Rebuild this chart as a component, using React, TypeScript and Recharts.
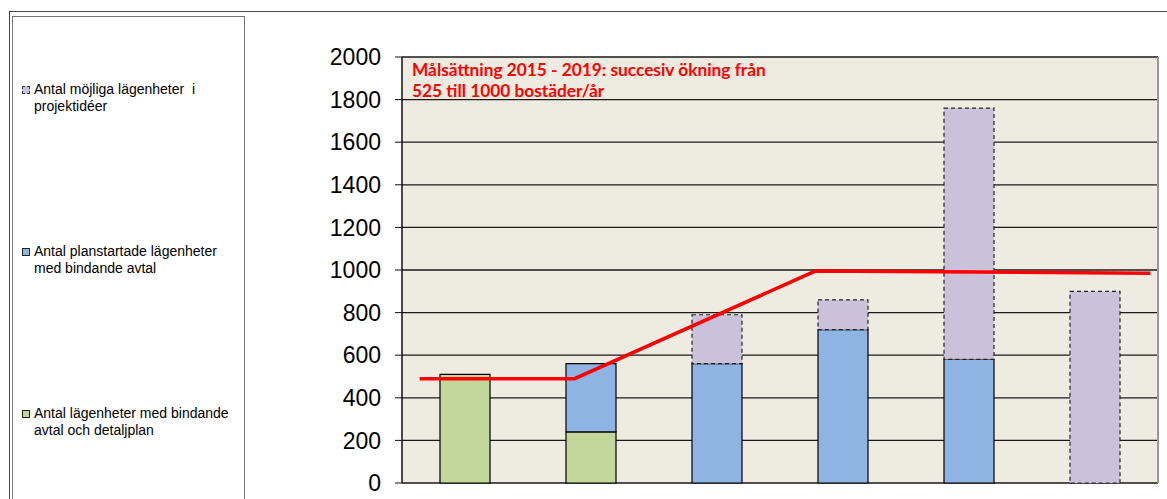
import {
  ComposedChart,
  Bar,
  Line,
  XAxis,
  YAxis,
  CartesianGrid,
  ReferenceLine,
} from 'recharts';

// Six years, no x labels shown in the original
const categories = ['2014', '2015', '2016', '2017', '2018', '2019'];
const detaljplan = [510, 240, 0, 0, 0, 0];
const planstartade = [0, 320, 560, 720, 580, 0];
const projektideer = [0, 0, 230, 140, 1180, 900];

// Target line (Målsättning), x in category units on a 0..6 scale
const targetX = [0.14, 1.37, 3.28, 5.94];
const targetY = [490, 490, 995, 985];

const yTicks = [0, 200, 400, 600, 800, 1000, 1200, 1400, 1600, 1800, 2000];

const COLORS = {
  green: '#C3D69B',
  blue: '#8EB4E3',
  purple: '#CCC1DA',
  plotBg: '#EEECE1',
  grid: '#1a1a1a',
  target: '#FF0000',
};

const legendItems = [
  { lines: ['Antal möjliga lägenheter  i', 'projektidéer'], color: COLORS.purple, top: 81, dashed: true },
  { lines: ['Antal planstartade lägenheter', 'med bindande avtal'], color: COLORS.blue, top: 243, dashed: false },
  { lines: ['Antal lägenheter med bindande', 'avtal och detaljplan'], color: COLORS.green, top: 405, dashed: false },
];

export default function App() {
  const chartData = categories.map((c, i) => ({
    name: c,
    detaljplan: detaljplan[i],
    planstartade: planstartade[i],
    projektideer: projektideer[i],
  }));
  const lineData = targetX.map((x, i) => ({ x, target: targetY[i] }));

  return (
    <div
      style={{
        position: 'absolute',
        left: 0,
        top: 0,
        width: 1167,
        height: 499,
        overflow: 'hidden',
        background: '#fff',
        fontFamily: '"Liberation Sans", Arial, sans-serif',
      }}
    >
      {/* outer frame */}
      <div
        style={{
          position: 'absolute',
          left: 9,
          top: 11,
          width: 1300,
          height: 600,
          borderLeft: '1px solid #444',
          borderTop: '1px solid #444',
        }}
      />
      {/* legend box */}
      <div
        style={{
          position: 'absolute',
          left: 12,
          top: 16,
          width: 231,
          height: 600,
          border: '1.5px solid #777',
        }}
      />
      {legendItems.map((item, i) => (
        <div
          key={i}
          style={{ position: 'absolute', left: 22, top: item.top, fontSize: 14, lineHeight: '17px', color: '#000' }}
        >
          <span
            style={{
              position: 'absolute',
              left: 0,
              top: 5,
              width: 6,
              height: 6,
              background: item.color,
              border: item.dashed ? '1px dashed #333' : '1px solid #222',
            }}
          />
          <div style={{ marginLeft: 12, whiteSpace: 'pre' }}>
            {item.lines.map((l, j) => (
              <div key={j}>{l}</div>
            ))}
          </div>
        </div>
      ))}

      <div style={{ position: 'absolute', left: 0, top: 0 }}>
        <ComposedChart
          width={1167}
          height={499}
          data={chartData}
          margin={{ top: 57, right: 9, bottom: 16, left: 0 }}
          barSize={50}
        >
          <CartesianGrid
            horizontal={true}
            vertical={false}
            stroke={COLORS.grid}
            strokeWidth={1.3}
            fill={COLORS.plotBg}
            fillOpacity={1}
          />
          <XAxis dataKey="name" height={0} tick={false} tickLine={false} axisLine={{ stroke: '#888', strokeWidth: 2 }} />
          <XAxis
            xAxisId="num"
            type="number"
            dataKey="x"
            domain={[0, 6]}
            allowDataOverflow
            hide
          />
          <YAxis
            width={402}
            domain={[0, 2000]}
            ticks={yTicks}
            interval={0}
            tickSize={7}
            tickMargin={14}
            tick={{ fontSize: 23, fill: '#000', fontFamily: '"Liberation Sans", Arial, sans-serif' }}
            axisLine={{ stroke: '#111', strokeWidth: 1.5 }}
            tickLine={{ stroke: '#111' }}
          />
          <ReferenceLine xAxisId="num" x={6} stroke="#999" strokeWidth={2} />
          <Bar dataKey="detaljplan" stackId="a" fill={COLORS.green} stroke="#000" strokeWidth={1.2} isAnimationActive={false} />
          <Bar dataKey="planstartade" stackId="a" fill={COLORS.blue} stroke="#000" strokeWidth={1.2} isAnimationActive={false} />
          <Bar
            dataKey="projektideer"
            stackId="a"
            fill={COLORS.purple}
            stroke="#222"
            strokeWidth={1.2}
            strokeDasharray="4 3"
            isAnimationActive={false}
          />
          <Line
            xAxisId="num"
            data={lineData}
            dataKey="target"
            type="linear"
            stroke={COLORS.target}
            strokeWidth={3.5}
            dot={false}
            activeDot={false}
            isAnimationActive={false}
          />
        </ComposedChart>
      </div>

      {/* goal annotation */}
      <div
        style={{
          position: 'absolute',
          left: 412,
          top: 59,
          fontFamily: 'Lato, sans-serif',
          fontWeight: 700,
          fontSize: 17.3,
          lineHeight: '21px',
          color: '#FF0000',
          whiteSpace: 'nowrap',
        }}
      >
        <div>Målsättning 2015 - 2019: succesiv ökning från</div>
        <div>525 till 1000 bostäder/år</div>
      </div>
    </div>
  );
}
